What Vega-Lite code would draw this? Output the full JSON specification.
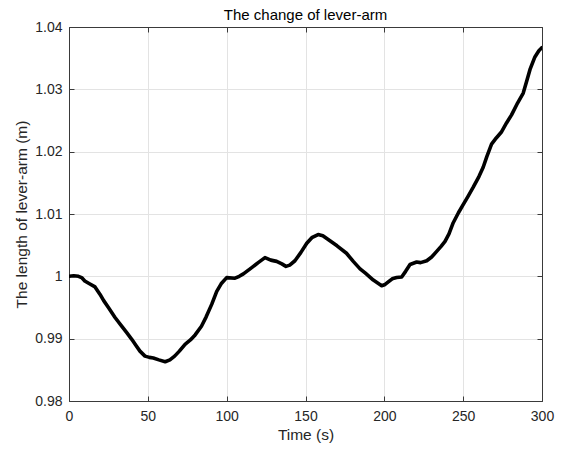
{
  "$schema": "https://vega.github.io/schema/vega-lite/v6.json",
  "width": 473,
  "height": 374,
  "autosize": {"type": "none"},
  "padding": {"left": 69, "top": 27, "right": 20, "bottom": 48},
  "background": "white",
  "title": {"text": "The change of lever-arm", "fontSize": 15, "fontWeight": "normal", "font": "Liberation Sans", "color": "#000000", "offset": -3},
  "config": {
    "view": {"stroke": "#3a3a3a", "strokeWidth": 1},
    "axis": {"labelFont": "Liberation Sans", "titleFont": "Liberation Sans", "labelFontSize": 14, "titleFontSize": 15.5, "titleFontWeight": "normal", "labelColor": "#262626", "titleColor": "#262626", "domainColor": "#3a3a3a", "tickColor": "#3a3a3a", "gridColor": "#e3e3e3", "gridWidth": 1, "labelFlush": false, "labelOverlap": false}
  },
  "data": {"values": [
    {"t":0,"v":1.0000},{"t":3,"v":1.0001},{"t":6,"v":1.0000},{"t":8,"v":0.9998},{"t":10,"v":0.99925},
    {"t":13,"v":0.9988},{"t":16.5,"v":0.9983},{"t":19.7,"v":0.9971},{"t":22,"v":0.9961},{"t":25,"v":0.9950},
    {"t":29.2,"v":0.9934},{"t":33.4,"v":0.9920},{"t":36.5,"v":0.9910},{"t":39.8,"v":0.9899},{"t":42.5,"v":0.9889},
    {"t":45,"v":0.9880},{"t":48.2,"v":0.9872},{"t":51,"v":0.9870},{"t":53.5,"v":0.9869},{"t":57,"v":0.9866},
    {"t":61,"v":0.9863},{"t":64,"v":0.9866},{"t":67,"v":0.9872},{"t":70,"v":0.9880},{"t":73.6,"v":0.9891},
    {"t":77,"v":0.9898},{"t":80,"v":0.9906},{"t":84,"v":0.9920},{"t":87,"v":0.9935},{"t":90.5,"v":0.9955},
    {"t":93.7,"v":0.9976},{"t":96.5,"v":0.9988},{"t":100,"v":0.9998},{"t":105.3,"v":0.9997},{"t":108,"v":1.0000},
    {"t":110.6,"v":1.0004},{"t":115.9,"v":1.0014},{"t":120,"v":1.0022},{"t":124.3,"v":1.0030},{"t":128,"v":1.0026},
    {"t":131.7,"v":1.0024},{"t":135,"v":1.0020},{"t":137.6,"v":1.0016},{"t":140,"v":1.0018},{"t":143.3,"v":1.0025},
    {"t":147,"v":1.0038},{"t":150.8,"v":1.0053},{"t":154,"v":1.0062},{"t":158,"v":1.0067},{"t":161,"v":1.0065},
    {"t":165.5,"v":1.0057},{"t":170,"v":1.0049},{"t":176,"v":1.0037},{"t":180.3,"v":1.0024},{"t":184.6,"v":1.0012},
    {"t":188,"v":1.0005},{"t":193,"v":0.9994},{"t":196,"v":0.9989},{"t":198.3,"v":0.9985},{"t":200.5,"v":0.9987},
    {"t":202.5,"v":0.9991},{"t":205,"v":0.9996},{"t":207.8,"v":0.9998},{"t":211,"v":0.9999},{"t":213.5,"v":1.0008},
    {"t":216.3,"v":1.0019},{"t":220.5,"v":1.0023},{"t":223,"v":1.0022},{"t":226.9,"v":1.0025},{"t":230,"v":1.0031},
    {"t":233.2,"v":1.0040},{"t":236,"v":1.0048},{"t":238.5,"v":1.0056},{"t":241,"v":1.0068},{"t":243.7,"v":1.0086},
    {"t":247,"v":1.0102},{"t":250,"v":1.0115},{"t":253,"v":1.0128},{"t":256.4,"v":1.0143},{"t":260,"v":1.0160},
    {"t":262.7,"v":1.0175},{"t":265,"v":1.0192},{"t":268,"v":1.0212},{"t":271,"v":1.0222},{"t":274.4,"v":1.0232},
    {"t":277.5,"v":1.0246},{"t":280.7,"v":1.0259},{"t":284.5,"v":1.0278},{"t":288.1,"v":1.0294},{"t":290.5,"v":1.0315},
    {"t":292.4,"v":1.0332},{"t":295.5,"v":1.0352},{"t":298,"v":1.0362},{"t":300,"v":1.0367}
  ]},
  "layer": [
    {
      "mark": {"type": "line", "color": "#000000", "strokeWidth": 3.6, "strokeJoin": "round", "strokeCap": "round", "clip": true},
      "encoding": {
        "x": {"field": "t", "type": "quantitative", "scale": {"domain": [0, 300], "nice": false, "zero": false},
              "axis": {"title": "Time (s)", "values": [0,50,100,150,200,250,300], "tickSize": -5, "labelPadding": 13, "titlePadding": 4, "grid": true}},
        "y": {"field": "v", "type": "quantitative", "scale": {"domain": [0.98, 1.04], "nice": false, "zero": false},
              "axis": {"title": "The length of lever-arm (m)", "values": [0.98,0.99,1.0,1.01,1.02,1.03,1.04], "format": "~g", "tickSize": -5, "labelPadding": 12, "titlePadding": 5, "grid": true}}
      }
    },
    {
      "mark": {"type": "line", "opacity": 0},
      "encoding": {
        "x": {"field": "t", "type": "quantitative", "axis": {"orient": "top", "title": null, "labels": false, "grid": false, "values": [0,50,100,150,200,250,300], "tickSize": -5}},
        "y": {"field": "v", "type": "quantitative", "axis": {"orient": "right", "title": null, "labels": false, "grid": false, "values": [0.98,0.99,1.0,1.01,1.02,1.03,1.04], "tickSize": -5}}
      }
    }
  ],
  "resolve": {"axis": {"x": "independent", "y": "independent"}}
}
